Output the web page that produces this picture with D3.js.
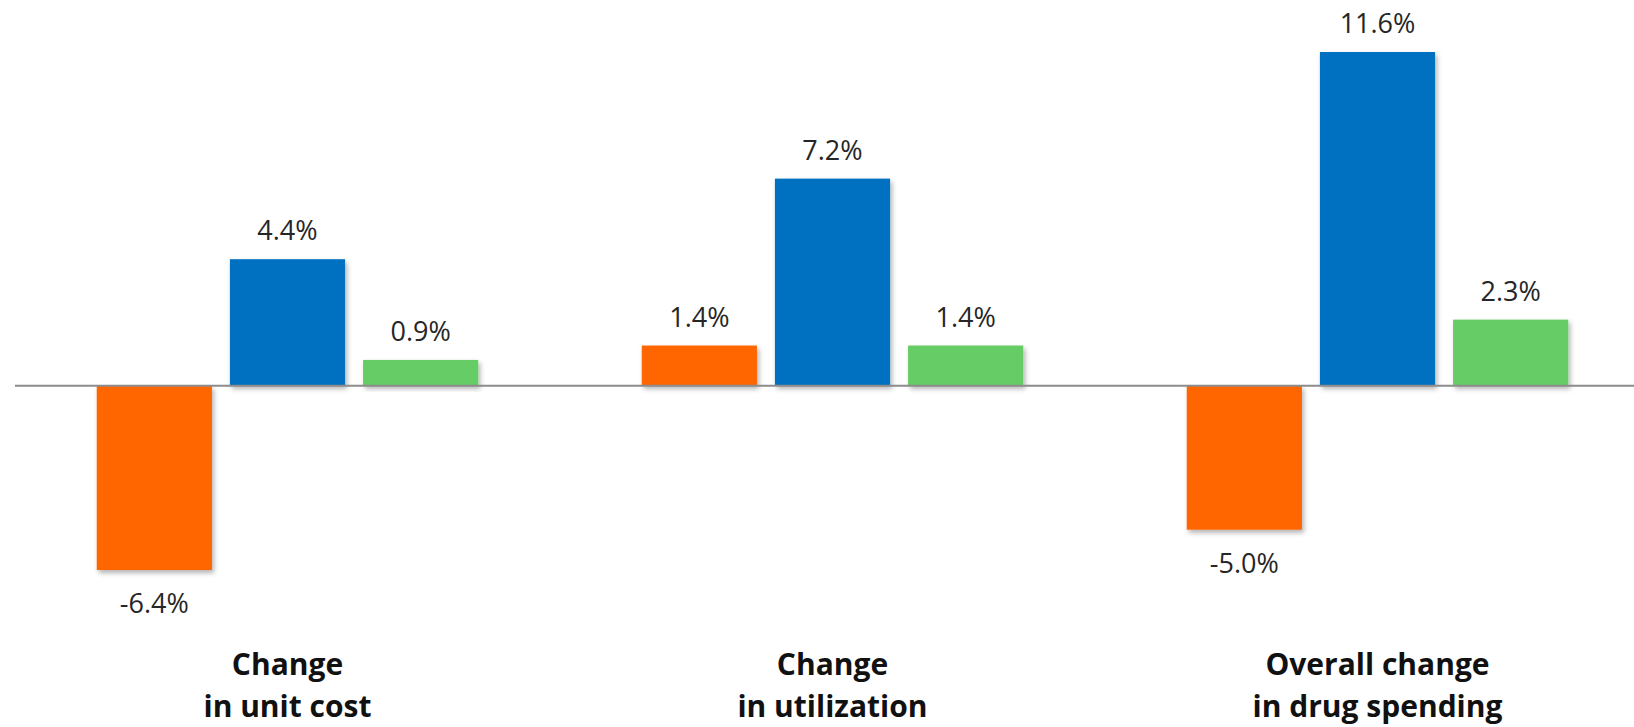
<!DOCTYPE html>
<html>
<head>
<meta charset="utf-8">
<script src="https://cdn.jsdelivr.net/npm/d3@7"></script>
<style>
  html, body { margin: 0; padding: 0; background: #fff; }
  svg { display: block; }
  .value { font-family: "Open Sans", sans-serif; font-size: 27px; fill: #262626; }
  .cat { font-family: "Open Sans", sans-serif; font-size: 30px; font-weight: 700; fill: #111; }
</style>
</head>
<body>
<svg id="chart"></svg>
<script>
const categories = ["unit", "util", "overall"]
const categoryLines = [
  ["Change", "in unit cost"],
  ["Change", "in utilization"],
  ["Overall change", "in drug spending"]
]
const seriesKeys = ["a", "b", "c"]
const seriesColors = ["#ff6600", "#0070c0", "#66cc66"]
const valuesA = [-6.4, 1.4, -5.0]
const valuesB = [4.4, 7.2, 11.6]
const valuesC = [0.9, 1.4, 2.3]

const width = 1634, height = 727

const rows = categories.map((c, i) => ({
  cat: c,
  vals: [valuesA[i], valuesB[i], valuesC[i]].map((v, j) => ({ key: seriesKeys[j], value: v }))
}))

// plain hyphen for negatives
const fmt = d3.formatLocale({ decimal: ".", thousands: ",", grouping: [3], currency: ["", ""], minus: "-" }).format(".1f")

const svg = d3.select("#chart")
  .attr("width", width)
  .attr("height", height)

// soft drop shadow under each bar
const defs = svg.append("defs")
defs.append("filter")
  .attr("id", "shadow")
  .attr("x", "-10%").attr("y", "-10%")
  .attr("width", "130%").attr("height", "130%")
  .append("feDropShadow")
  .attr("dx", 2).attr("dy", 3)
  .attr("stdDeviation", 2.5)
  .attr("flood-color", "#000")
  .attr("flood-opacity", 0.3)

const x0 = d3.scaleBand()
  .domain(categories)
  .range([15, 1650])
  .paddingInner(0.3)
  .paddingOuter(0.15)

const x1 = d3.scaleBand()
  .domain(seriesKeys)
  .range([0, x0.bandwidth()])
  .paddingInner(0.135)

const allVals = valuesA.concat(valuesB, valuesC)
const y = d3.scaleLinear()
  .domain([d3.min(allVals), d3.max(allVals)])
  .range([570, 52])

const color = d3.scaleOrdinal(seriesKeys, seriesColors)

const groups = svg.append("g").selectAll("g")
  .data(rows)
  .join("g")
  .attr("transform", d => `translate(${x0(d.cat)},0)`)

groups.selectAll("rect")
  .data(d => d.vals)
  .join("rect")
  .attr("x", d => x1(d.key))
  .attr("width", x1.bandwidth())
  .attr("y", d => y(Math.max(0, d.value)))
  .attr("height", d => Math.abs(y(d.value) - y(0)))
  .attr("fill", d => color(d.key))
  .attr("filter", "url(#shadow)")

groups.selectAll("text.value")
  .data(d => d.vals)
  .join("text")
  .attr("class", "value")
  .attr("text-anchor", "middle")
  .attr("x", d => x1(d.key) + x1.bandwidth() / 2)
  .attr("y", d => d.value >= 0 ? y(d.value) - 19 : y(d.value) + 43)
  .text(d => fmt(d.value) + "%")

// zero line
svg.append("line")
  .attr("x1", 15).attr("x2", width)
  .attr("y1", y(0)).attr("y2", y(0))
  .attr("stroke", "#8c8c8c")
  .attr("stroke-width", 2)

// category labels under each group
const catText = svg.append("g").selectAll("text")
  .data(rows)
  .join("text")
  .attr("class", "cat")
  .attr("text-anchor", "middle")
  .attr("x", d => x0(d.cat) + x0.bandwidth() / 2)
  .attr("y", 675)

catText.selectAll("tspan")
  .data((d, i) => categoryLines[i])
  .join("tspan")
  .attr("x", function() { return this.parentNode.getAttribute("x") })
  .attr("dy", (d, i) => i === 0 ? 0 : 42)
  .text(d => d)
</script>
</body>
</html>
